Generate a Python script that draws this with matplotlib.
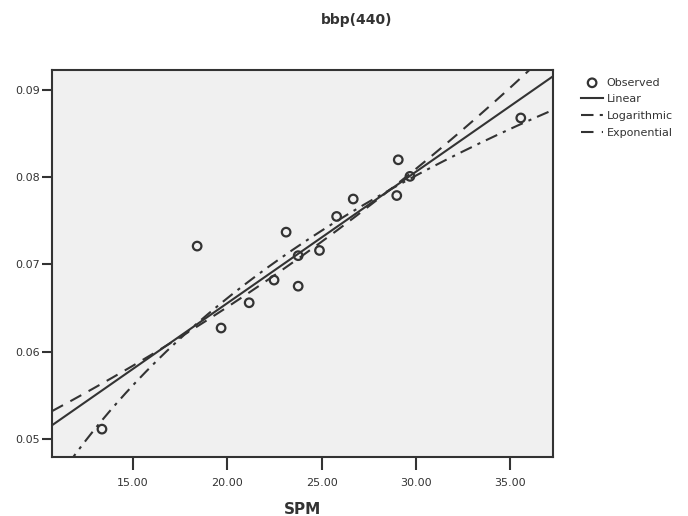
import numpy as np
import matplotlib
matplotlib.use("Agg")
import matplotlib.pyplot as plt

# observed points
spm = [13.35, 18.40, 19.67, 21.16, 22.48, 23.12, 23.76, 23.76, 24.89, 25.80,
       26.68, 28.99, 29.07, 29.69, 35.57]
bbp = [0.0511, 0.0721, 0.0627, 0.0656, 0.0682, 0.0737, 0.0710, 0.0675, 0.0716,
       0.0755, 0.0775, 0.0779, 0.0820, 0.0801, 0.0868]

xticks = [15, 20, 25, 30, 35]
yticks = [0.05, 0.06, 0.07, 0.08, 0.09]

x = np.array(spm)
y = np.array(bbp)

# curve fits (linear, logarithmic, exponential)
b_lin = np.polyfit(x, y, 1)
b_log = np.polyfit(np.log(x), y, 1)
b_exp = np.polyfit(x, np.log(y), 1)

xs = np.linspace(10.7, 37.3, 300)
fit_lin = np.polyval(b_lin, xs)
fit_log = np.polyval(b_log, np.log(xs))
fit_exp = np.exp(np.polyval(b_exp, xs))

ink = "#333333"

fig = plt.figure(figsize=(6.88, 5.16), dpi=100)
ax = fig.add_axes([0.0756, 0.1143, 0.7282, 0.75])
ax.set_facecolor("#f0f0f0")

ax.plot(xs, fit_lin, color=ink, lw=1.5, ls="-", label="Linear")
ax.plot(xs, fit_log, color=ink, lw=1.5, ls=(0, (6, 3, 1.5, 3)), label="Logarithmic")
ax.plot(xs, fit_exp, color=ink, lw=1.5, ls=(0, (6, 4)), label="Exponential")
ax.scatter(x, y, s=38, facecolors="none", edgecolors=ink, linewidths=1.6,
           zorder=5, label="Observed")

ax.set_xlim(10.7, 37.28)
ax.set_ylim(0.0479, 0.0923)
ax.set_xticks(xticks)
ax.set_xticklabels(["%.2f" % t for t in xticks])
ax.set_yticks(yticks)
ax.set_yticklabels(["%.2f" % t for t in yticks])
ax.tick_params(axis="x", direction="out", length=9, width=1.5, colors=ink,
               labelsize=8, pad=6)
ax.tick_params(axis="y", direction="out", length=7, width=1.5, colors=ink,
               labelsize=8, pad=2)
for s in ax.spines.values():
    s.set_color(ink)
    s.set_linewidth(1.5)

ax.set_xlabel("SPM", fontsize=11, fontweight="bold", color=ink, labelpad=10)
fig.text(0.518, 0.962, "bbp(440)", ha="center", va="center", fontsize=10,
         fontweight="bold", color=ink)

h, l = ax.get_legend_handles_labels()
order = [3, 0, 1, 2]
leg = fig.legend([h[i] for i in order], [l[i] for i in order],
                 loc="upper left", bbox_to_anchor=(0.838, 0.858),
                 frameon=False, fontsize=8, handlelength=2.0,
                 handletextpad=0.3, labelspacing=0.6, borderaxespad=0)
for t in leg.get_texts():
    t.set_color(ink)

fig.savefig("out.png", dpi=100)
